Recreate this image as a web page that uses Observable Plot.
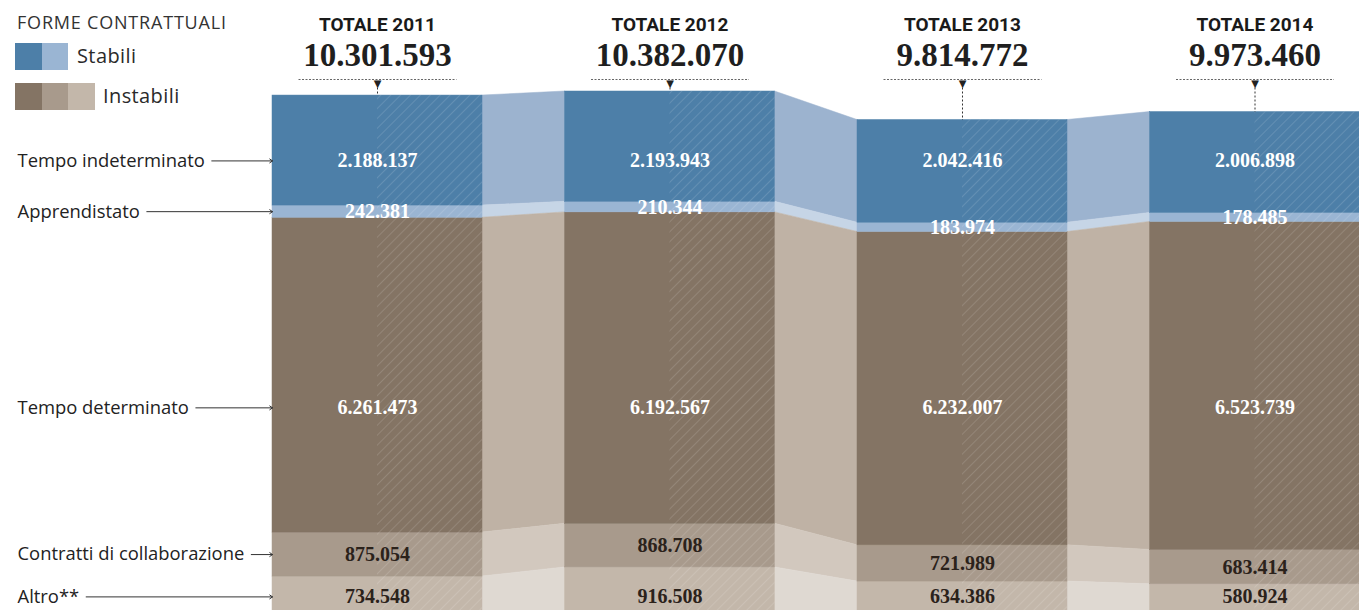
<!DOCTYPE html>
<html>
<head>
<meta charset="utf-8">
<script src="https://cdn.jsdelivr.net/npm/d3@7"></script>
<script src="https://cdn.jsdelivr.net/npm/@observablehq/plot@0.6"></script>
<style>
  body { margin: 0; background: #fff; }
  #wrap { position: relative; width: 1359px; height: 610px; overflow: hidden; }
  #legend { position: absolute; left: 0; top: 0; font-family: "Open Sans", sans-serif; color: #2a2a2a; }
  #legend .t { position: absolute; white-space: nowrap; }
  #legend .sw { position: absolute; height: 27px; display: flex; }
  #legend .sw span { display: block; height: 27px; }
</style>
</head>
<body>
<div id="wrap">
  <div id="chart"></div>
  <div id="legend"></div>
</div>
<script>
// ---------------- DATA ----------------
const years = ["2011", "2012", "2013", "2014"];
const categories = ["Tempo indeterminato", "Apprendistato", "Tempo determinato", "Contratti di collaborazione", "Altro**"];
const groups = ["Stabili", "Stabili", "Instabili", "Instabili", "Instabili"];
const legendTitle = "FORME CONTRATTUALI";
const legendLabels = ["Stabili", "Instabili"];
const tempoIndeterminato = [2188137, 2193943, 2042416, 2006898];
const apprendistato      = [242381, 210344, 183974, 178485];
const tempoDeterminato   = [6261473, 6192567, 6232007, 6523739];
const collaborazione     = [875054, 868708, 721989, 683414];
const altro              = [734548, 916508, 634386, 580924];

// ---------------- STYLE ----------------
const barColors = ["#4d7fa8", "#9ab5d3", "#847464", "#a89a8c", "#c3b7aa"];
const gapColors = ["#9cb3cf", "#c6d5e6", "#bfb2a5", "#d2c8be", "#dfd9d2"];
const labelFill = ["#ffffff", "#ffffff", "#ffffff", "#2b221b", "#2b221b"];
const labelMode = ["common", "each", "common", "each", "common"];
const labelShift = [0, 0, 30, 0, -2];
const BAR = 210 / 292.5;          // bar width as fraction of the step
const sansFont = "'Open Sans', sans-serif";
const serifFont = "'Liberation Serif', serif";
const rowFontSize = 18.4;

const series = [tempoIndeterminato, apprendistato, tempoDeterminato, collaborazione, altro];
const totals = years.map((_, i) => d3.sum(series, s => s[i]));
const fmt = d3.formatLocale({decimal: ",", thousands: ".", grouping: [3], currency: ["", ""]}).format(",d");

// stacking (bottom -> top: Altro, Collaborazione, Determinato, Apprendistato, Indeterminato)
const bottomUp = [4, 3, 2, 1, 0];
const segs = [];
years.forEach((yr, i) => {
  let base = 0;
  for (const k of bottomUp) {
    const v = series[k][i];
    segs.push({k, i, year: yr, value: v, y1: base, y2: base + v});
    base += v;
  }
});
const seg = (k, i) => segs.find(s => s.k === k && s.i === i);

// connecting bands
const gaps = [];
for (let g = 0; g < years.length - 1; g++) {
  for (let k = 0; k < categories.length; k++) {
    const a = seg(k, g), b = seg(k, g + 1);
    gaps.push({k, z: k + "-" + g, x: g + BAR / 2, y1: a.y1, y2: a.y2});
    gaps.push({k, z: k + "-" + g, x: g + 1 - BAR / 2, y1: b.y1, y2: b.y2});
  }
}

// label positions
const rowY = categories.map((c, k) => {
  const ss = years.map((_, i) => seg(k, i));
  const top = d3.min(ss, s => s.y2), bot = d3.max(ss, s => s.y1);
  return (top + bot) / 2;
});

const xDomain = [0, years.length - 1];
const xRange = [377, 1254.5];
const yDomain = [0, d3.max(totals)];
const yRange = [613, 91];
const xs = Plot.scale({x: {domain: xDomain, range: xRange}});
const ys = Plot.scale({y: {domain: yDomain, range: yRange}});

const valueLabels = segs.map(s => ({
  ...s,
  ly: labelMode[s.k] === "common" ? ys.invert(ys.apply(rowY[s.k]) + labelShift[s.k]) : (s.y1 + s.y2) / 2
}));

const canvas = document.createElement("canvas").getContext("2d");
canvas.font = rowFontSize + "px 'Open Sans'";
const rowLabels = categories.map((name, k) => {
  const s0 = valueLabels.find(s => s.k === k && s.i === 0);
  return {k, name, ly: s0.ly, w: canvas.measureText(name).width};
});

const dotY = ys.invert(79);
const stemY = ys.invert(87);

const chart = Plot.plot({
  width: 1359,
  height: 610,
  margin: 0,
  x: {domain: xDomain, range: xRange, axis: null},
  y: {domain: yDomain, range: yRange, axis: null},
  color: {type: "identity"},
  style: {background: "transparent", overflow: "hidden"},
  marks: [
    // connecting bands
    Plot.area(gaps, {x1: "x", y1: "y1", y2: "y2", z: "z", fill: d => gapColors[d.k], stroke: d => gapColors[d.k], strokeWidth: 0.5, curve: "linear"}),
    // bars
    Plot.rect(segs, {x1: d => d.i - BAR / 2, x2: d => d.i + BAR / 2, y1: "y1", y2: "y2", fill: d => barColors[d.k], stroke: d => barColors[d.k], strokeWidth: 0.5}),
    // hatched right half
    Plot.rect(years, {x1: (d, i) => i, x2: (d, i) => i + BAR / 2, y1: 0, y2: (d, i) => totals[i], fill: "url(#hatch)"}),
    // value labels
    Plot.text(valueLabels, {x: "i", y: "ly", text: d => fmt(d.value), fill: d => labelFill[d.k], fontFamily: serifFont, fontWeight: "bold", fontSize: 20}),
    // header
    Plot.text(years, {x: (d, i) => i, frameAnchor: "top", lineAnchor: "middle", dy: 24, text: d => "TOTALE " + d, fontFamily: "Roboto, sans-serif", fontWeight: "bold", fontSize: 19, fill: "#1a1a1a"}),
    Plot.text(years, {x: (d, i) => i, frameAnchor: "top", lineAnchor: "middle", dy: 55, text: (d, i) => fmt(totals[i]), fontFamily: serifFont, fontWeight: "bold", fontSize: 33, fill: "#1f1f1f"}),
    Plot.link(years, {x1: (d, i) => i - 0.27, x2: (d, i) => i + 0.27, y1: dotY, y2: dotY, stroke: "#666", strokeWidth: 1, strokeDasharray: "2,1.5"}),
    Plot.link(years, {x1: (d, i) => i, x2: (d, i) => i, y1: stemY, y2: (d, i) => totals[i], stroke: "#333", strokeWidth: 1, strokeDasharray: "2,2"}),
    Plot.text(years, {x: (d, i) => i, frameAnchor: "top", lineAnchor: "middle", dy: 83, text: () => "▼", fontSize: 10, fill: "#222", fontFamily: "DejaVu Sans"}),
    // row labels
    Plot.text(rowLabels, {frameAnchor: "left", y: "ly", dx: 17, text: "name", textAnchor: "start", fontFamily: sansFont, fontSize: rowFontSize, fill: "#222"}),
    Plot.arrow(rowLabels, {x1: d => xs.invert(17 + d.w + 7), x2: -BAR / 2, y1: "ly", y2: "ly", stroke: "#333", strokeWidth: 1, headLength: 5, headAngle: 70})
  ]
});

// hatch pattern
const svg = chart.tagName.toLowerCase() === "svg" ? chart : chart.querySelector("svg");
const defs = d3.select(svg).insert("defs", ":first-child");
const pat = defs.append("pattern").attr("id", "hatch").attr("patternUnits", "userSpaceOnUse")
  .attr("width", 7).attr("height", 7).attr("patternTransform", "rotate(45)");
pat.append("line").attr("x1", 0).attr("y1", 0).attr("x2", 0).attr("y2", 7)
  .attr("stroke", "#ffffff").attr("stroke-opacity", 0.16).attr("stroke-width", 1.6);
document.getElementById("chart").appendChild(chart);

// legend (HTML)
const lg = d3.select("#legend");
lg.append("div").attr("class", "t").style("left", "17px").style("top", "10px").style("font-size", "18px").style("letter-spacing", "0.8px").style("color", "#333").text(legendTitle);
const stabCols = barColors.filter((c, k) => groups[k] === legendLabels[0]);
const instCols = barColors.filter((c, k) => groups[k] === legendLabels[1]);
const sw1 = lg.append("div").attr("class", "sw").style("left", "15px").style("top", "43px");
stabCols.forEach(c => sw1.append("span").style("width", "26.7px").style("background", c));
lg.append("div").attr("class", "t").style("left", "77px").style("top", "42px").style("font-size", "20px").style("letter-spacing", "0.4px").text(legendLabels[0]);
const sw2 = lg.append("div").attr("class", "sw").style("left", "15px").style("top", "83px");
instCols.forEach(c => sw2.append("span").style("width", "26.7px").style("background", c));
lg.append("div").attr("class", "t").style("left", "103px").style("top", "82px").style("font-size", "20px").style("letter-spacing", "0.4px").text(legendLabels[1]);
</script>
</body>
</html>
